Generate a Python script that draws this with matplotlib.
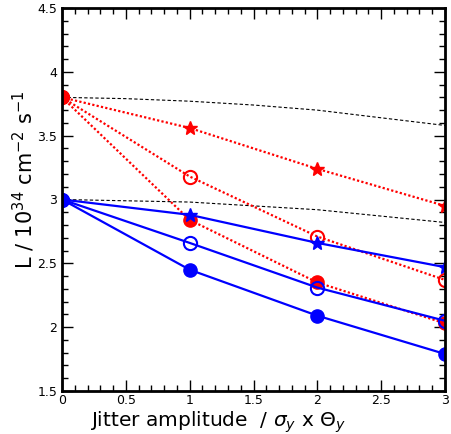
import matplotlib
matplotlib.use('Agg')
import matplotlib.pyplot as plt
from matplotlib.ticker import MultipleLocator, FuncFormatter

# jitter amplitude (units of sigma_y x theta_y)
jitter = [0, 1, 2, 3]

# luminosity, red (dotted) family
red_star = [3.80, 3.56, 3.24, 2.95]
red_open = [3.80, 3.18, 2.71, 2.37]
red_full = [3.80, 2.84, 2.35, 2.03]

# luminosity, blue (solid) family
blue_star = [3.00, 2.88, 2.66, 2.47]
blue_open = [3.00, 2.66, 2.31, 2.05]
blue_full = [3.00, 2.45, 2.09, 1.79]

# reference curves (thin dashed)
ref_x = [0, 0.5, 1, 1.5, 2, 2.5, 3]
ref_upper = [3.80, 3.79, 3.77, 3.74, 3.70, 3.64, 3.58]
ref_lower = [3.00, 2.99, 2.98, 2.95, 2.92, 2.87, 2.82]

fig = plt.figure(figsize=(4.51, 4.34), dpi=100)
ax = fig.add_axes([62 / 451, 1 - 391 / 434, (445 - 62) / 451, (391 - 8) / 434])

ax.plot(ref_x, ref_upper, color='black', lw=0.8, ls=(0, (3, 2)))
ax.plot(ref_x, ref_lower, color='black', lw=0.8, ls=(0, (3, 2)))

red_kw = dict(color='red', lw=1.6, ls=(0, (1, 1)))
ax.plot(jitter, red_star, marker='*', ms=10, **red_kw)
ax.plot(jitter, red_open, marker='o', ms=9.5, mfc='none', mew=1.5, **red_kw)
ax.plot(jitter, red_full, marker='o', ms=9.5, **red_kw)

blue_kw = dict(color='blue', lw=1.6, ls='-')
ax.plot(jitter, blue_star, marker='*', ms=10, **blue_kw)
ax.plot(jitter, blue_open, marker='o', ms=9.5, mfc='none', mew=1.5, **blue_kw)
ax.plot(jitter, blue_full, marker='o', ms=9.5, **blue_kw)

ax.set_xlim(0, 3)
ax.set_ylim(1.5, 4.5)
ax.xaxis.set_major_locator(MultipleLocator(0.5))
ax.xaxis.set_minor_locator(MultipleLocator(0.1))
ax.yaxis.set_major_locator(MultipleLocator(0.5))
ax.yaxis.set_minor_locator(MultipleLocator(0.1))
fmt = FuncFormatter(lambda v, pos: '%g' % round(v, 2))
ax.xaxis.set_major_formatter(fmt)
ax.yaxis.set_major_formatter(fmt)
ax.tick_params(which='both', direction='in', top=True, right=True, labelsize=9, width=1)
ax.tick_params(axis='x', pad=2)
ax.tick_params(which='major', length=8)
ax.tick_params(which='minor', length=4)
for s in ax.spines.values():
    s.set_linewidth(2)

fig.text(218 / 451, 1 - 422 / 434, r'Jitter amplitude  / $\sigma_y$ x $\Theta_y$',
         ha='center', va='center', fontsize=14.5)
fig.text(24 / 451, 1 - 180 / 434, r'L / 10$^{34}$ cm$^{-2}$ s$^{-1}$',
         ha='center', va='center', rotation=90, fontsize=15)

fig.savefig('out.png', dpi=100)
